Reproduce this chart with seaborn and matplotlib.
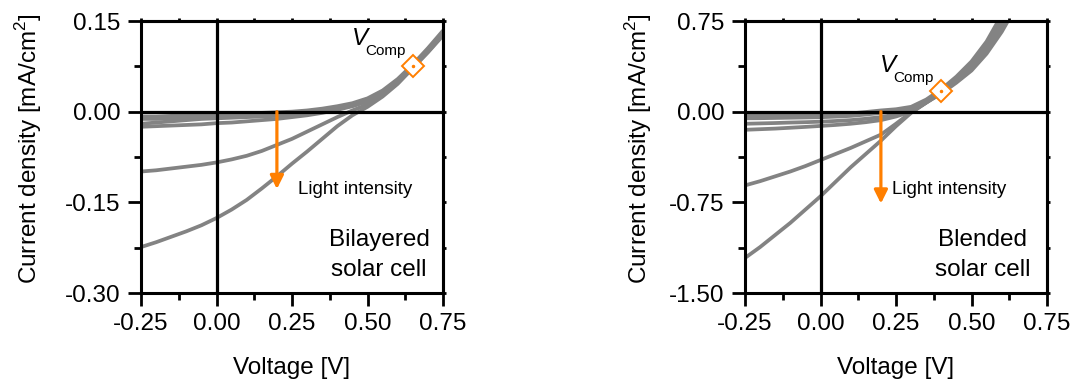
import numpy as np
import pandas as pd
import matplotlib
matplotlib.use("Agg")
import matplotlib.pyplot as plt
import seaborn as sns

# ---------------- data ----------------
# Bilayered solar cell
v_bil = [-0.25, -0.20, -0.15, -0.10, -0.05, 0.00, 0.05, 0.10, 0.15, 0.20, 0.25,
         0.30, 0.35, 0.40, 0.45, 0.50, 0.55, 0.60, 0.65, 0.70, 0.75]
j_bil_1 = [-0.224, -0.216, -0.207, -0.198, -0.188, -0.176, -0.162, -0.146, -0.127, -0.107, -0.086,
           -0.066, -0.045, -0.024, -0.006, 0.008, 0.025, 0.046, 0.072, 0.098, 0.126]
j_bil_2 = [-0.099, -0.097, -0.094, -0.091, -0.088, -0.084, -0.079, -0.073, -0.065, -0.055, -0.045,
           -0.033, -0.021, -0.009, 0.002, 0.012, 0.028, 0.048, 0.073, 0.099, 0.128]
j_bil_3 = [-0.025, -0.024, -0.023, -0.022, -0.021, -0.019, -0.018, -0.016, -0.014, -0.012, -0.009,
           -0.006, -0.002, 0.003, 0.009, 0.017, 0.030, 0.049, 0.074, 0.100, 0.129]
j_bil_4 = [-0.020, -0.018, -0.016, -0.014, -0.012, -0.011, -0.010, -0.009, -0.008, -0.007, -0.005,
           -0.003, 0.000, 0.005, 0.010, 0.018, 0.031, 0.050, 0.075, 0.101, 0.130]
j_bil_5 = [-0.012, -0.012, -0.011, -0.011, -0.010, -0.009, -0.008, -0.007, -0.006, -0.004, -0.002,
           0.000, 0.003, 0.007, 0.012, 0.020, 0.033, 0.052, 0.077, 0.103, 0.132]
j_bil_6 = [-0.008, -0.008, -0.007, -0.007, -0.006, -0.005, -0.004, -0.003, -0.002, -0.001, 0.000,
           0.002, 0.005, 0.009, 0.014, 0.022, 0.035, 0.054, 0.078, 0.105, 0.134]

# Blended solar cell
v_ble = [-0.25, -0.20, -0.15, -0.10, -0.05, 0.00, 0.05, 0.10, 0.15, 0.20,
         0.25, 0.30, 0.35, 0.40, 0.45, 0.50, 0.55, 0.60, 0.65]
j_ble_1 = [-1.21, -1.12, -1.02, -0.92, -0.81, -0.70, -0.58, -0.46, -0.35, -0.24,
           -0.12, -0.01, 0.075, 0.150, 0.24, 0.34, 0.48, 0.66, 0.88]
j_ble_2 = [-0.61, -0.575, -0.535, -0.495, -0.45, -0.40, -0.35, -0.30, -0.245, -0.19,
           -0.10, -0.005, 0.075, 0.155, 0.25, 0.36, 0.50, 0.69, 0.92]
j_ble_3 = [-0.15, -0.145, -0.14, -0.133, -0.126, -0.118, -0.110, -0.100, -0.087, -0.07,
           -0.04, 0.00, 0.075, 0.160, 0.26, 0.37, 0.52, 0.71, 0.94]
j_ble_4 = [-0.10, -0.097, -0.094, -0.090, -0.087, -0.083, -0.077, -0.070, -0.059, -0.045,
           -0.022, 0.005, 0.08, 0.165, 0.27, 0.385, 0.54, 0.74, 0.97]
j_ble_5 = [-0.055, -0.054, -0.052, -0.050, -0.048, -0.046, -0.041, -0.035, -0.024, -0.01,
           0.005, 0.025, 0.09, 0.175, 0.28, 0.40, 0.56, 0.77, 1.00]
j_ble_6 = [-0.030, -0.030, -0.030, -0.029, -0.029, -0.028, -0.022, -0.015, -0.003, 0.01,
           0.02, 0.04, 0.10, 0.185, 0.29, 0.415, 0.58, 0.80, 1.04]

vcomp_bil = (0.65, 0.075)
vcomp_ble = (0.40, 0.175)

x_ticks = [-0.25, 0.00, 0.25, 0.50, 0.75]
y_ticks_bil = [-0.30, -0.15, 0.00, 0.15]
y_ticks_ble = [-1.50, -0.75, 0.00, 0.75]

# ---------------- style ----------------
sns.set_style("ticks")
plt.rcParams["font.family"] = ["Liberation Sans", "DejaVu Sans"]
plt.rcParams["mathtext.fontset"] = "custom"
plt.rcParams["mathtext.rm"] = "Liberation Sans"
plt.rcParams["text.color"] = "black"
plt.rcParams["axes.labelcolor"] = "black"
plt.rcParams["xtick.color"] = "black"
plt.rcParams["ytick.color"] = "black"

GRAY = "#838383"
ORANGE = "#FF7F00"

fig = plt.figure(figsize=(10.76, 3.88), dpi=100)
axL = fig.add_axes([141 / 1076, 1 - 293 / 388, 302 / 1076, 272 / 388])
axR = fig.add_axes([745 / 1076, 1 - 293 / 388, 302 / 1076, 272 / 388])


def long_df(v, curves):
    rows = []
    for i, c in enumerate(curves):
        for x, y in zip(v, c):
            rows.append({"V": x, "J": y, "curve": i})
    return pd.DataFrame(rows)


def minor_of(t):
    return [(t[i] + t[i + 1]) / 2 for i in range(len(t) - 1)]


def style_axes(ax, yticks, ylim, ylabel_x):
    ax.set_xlim(-0.25, 0.75)
    ax.set_ylim(*ylim)
    ax.set_xticks(x_ticks)
    ax.set_xticklabels([f"{t:.2f}" for t in x_ticks])
    ax.set_yticks(yticks)
    ax.set_yticklabels([f"{t:.2f}" for t in yticks])
    ax.set_xticks(minor_of(x_ticks), minor=True)
    ax.set_yticks(minor_of(yticks), minor=True)
    for s in ax.spines.values():
        s.set_visible(True)
        s.set_linewidth(2.2)
        s.set_color("black")
        s.set_zorder(6)
    ax.tick_params(which="major", direction="out", length=9.5, width=2.0, labelsize=17.5)
    ax.tick_params(which="minor", direction="out", length=5, width=2.0)
    ax.tick_params(axis="x", which="major", pad=5)
    ax.tick_params(axis="y", which="major", pad=5.5)
    ax.tick_params(which="both", top=False, right=False)
    # tiny mirrored ticks on top and right
    top = ax.secondary_xaxis("top")
    top.set_xticks(x_ticks)
    top.set_xticks(minor_of(x_ticks), minor=True)
    top.tick_params(which="both", direction="out", length=2, width=2.0, labeltop=False)
    top.spines["top"].set_linewidth(2.2)
    right = ax.secondary_yaxis("right")
    right.set_yticks(yticks)
    right.set_yticks(minor_of(yticks), minor=True)
    right.tick_params(which="both", direction="out", length=2, width=2.0, labelright=False)
    right.spines["right"].set_linewidth(2.2)

    ax.axhline(0, color="black", lw=2.3, zorder=4)
    ax.axvline(0, color="black", lw=2.3, zorder=4)
    ax.set_xlabel("Voltage [V]", fontsize=17.5, labelpad=16)
    ax.set_ylabel("Current density [mA/cm$^2$]", fontsize=17.5)
    ax.yaxis.set_label_coords(ylabel_x, 0.53)


dfL = long_df(v_bil, [j_bil_1, j_bil_2, j_bil_3, j_bil_4, j_bil_5, j_bil_6])
dfR = long_df(v_ble, [j_ble_1, j_ble_2, j_ble_3, j_ble_4, j_ble_5, j_ble_6])

for ax, df in [(axL, dfL), (axR, dfR)]:
    sns.lineplot(data=df, x="V", y="J", units="curve", estimator=None, color=GRAY,
                 lw=2.7, ax=ax, legend=False, zorder=3)

style_axes(axL, y_ticks_bil, (-0.30, 0.15), -0.32)
style_axes(axR, y_ticks_ble, (-1.50, 0.75), -0.30)

# V_comp markers
for ax, pt in [(axL, vcomp_bil), (axR, vcomp_ble)]:
    ax.plot([pt[0]], [pt[1]], marker="D", ms=11, mfc="white", mec=ORANGE, mew=1.4,
            ls="none", zorder=7)
    ax.plot([pt[0]], [pt[1]], marker="o", ms=1.5, color=ORANGE, ls="none", zorder=8)

# V_comp labels
axL.text(0.699, 0.912, "V", transform=axL.transAxes, fontsize=17.5, style="italic", va="baseline")
axL.text(0.742, 0.875, "Comp", transform=axL.transAxes, fontsize=11, va="baseline")
axR.text(0.447, 0.814, "V", transform=axR.transAxes, fontsize=17.5, style="italic", va="baseline")
axR.text(0.491, 0.777, "Comp", transform=axR.transAxes, fontsize=11, va="baseline")

# Light intensity arrows
for ax, tip in [(axL, -0.128), (axR, -0.76)]:
    ax.annotate("", xy=(0.2, tip), xytext=(0.2, 0.0),
                arrowprops=dict(arrowstyle="-|>", color=ORANGE, lw=2.3, mutation_scale=20,
                                shrinkA=0, shrinkB=0), zorder=8)
axL.text(0.52, 0.379, "Light intensity", transform=axL.transAxes, fontsize=13.5, va="center")
axR.text(0.486, 0.379, "Light intensity", transform=axR.transAxes, fontsize=13.5, va="center")

# panel captions
axL.text(0.788, 0.195, "Bilayered", transform=axL.transAxes, fontsize=17.5, ha="center", va="center")
axL.text(0.788, 0.085, "solar cell", transform=axL.transAxes, fontsize=17.5, ha="center", va="center")
axR.text(0.788, 0.195, "Blended", transform=axR.transAxes, fontsize=17.5, ha="center", va="center")
axR.text(0.788, 0.085, "solar cell", transform=axR.transAxes, fontsize=17.5, ha="center", va="center")

fig.savefig("out.png", dpi=100, facecolor="white")
